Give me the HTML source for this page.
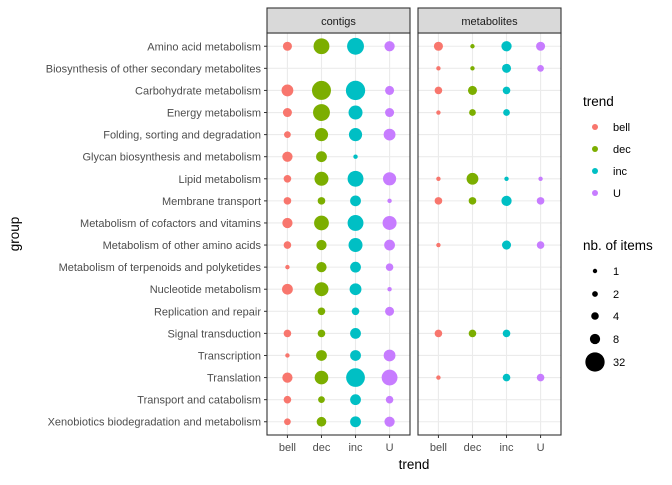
<!DOCTYPE html>
<html><head><meta charset="utf-8"><style>
body{margin:0;background:#fff;}
svg text{font-family:"Liberation Sans",sans-serif;}
</style></head><body>
<svg id="chart" width="672" height="480" xmlns="http://www.w3.org/2000/svg"></svg>
<script>
const groups=["Amino acid metabolism","Biosynthesis of other secondary metabolites","Carbohydrate metabolism","Energy metabolism","Folding, sorting and degradation","Glycan biosynthesis and metabolism","Lipid metabolism","Membrane transport","Metabolism of cofactors and vitamins","Metabolism of other amino acids","Metabolism of terpenoids and polyketides","Nucleotide metabolism","Replication and repair","Signal transduction","Transcription","Translation","Transport and catabolism","Xenobiotics biodegradation and metabolism"];
const trends=["bell","dec","inc","U"];
const colors=["#F8766D","#7CAE00","#00BFC4","#C77CFF"];
// counts per group: [bell, dec, inc, U]; 0 = absent
const contigs=[[6,21,24,8],[0,0,0,0],[11,31,32,6],[6,24,16,6],[3,14,14,11],[8,9,1,0],[4,16,21,14],[4,4,9,1],[8,18,21,16],[4,8,16,9],[1,8,9,4],[9,16,11,1],[0,4,4,6],[4,4,9,0],[1,9,9,11],[8,15,30,21],[4,3,9,4],[3,7,9,8]];
const metabolites=[[6,1,8,6],[1,1,6,3],[4,6,4,0],[1,3,3,0],[0,0,0,0],[0,0,0,0],[1,11,1,1],[4,4,8,4],[0,0,0,0],[1,0,6,4],[0,0,0,0],[0,0,0,0],[0,0,0,0],[4,4,4,0],[0,0,0,0],[1,0,4,4],[0,0,0,0],[0,0,0,0]];
const sizeBreaks=[1,2,4,8,32];

const NS="http://www.w3.org/2000/svg";
const svg=document.getElementById('chart');
function mk(tag,attrs,parent){const e=document.createElementNS(NS,tag);for(const k in attrs)e.setAttribute(k,attrs[k]);(parent||svg).appendChild(e);return e;}
const plotTop=33,plotBottom=435;
const step=(plotBottom-plotTop)/(groups.length-1+1.2);
function yPos(i){return plotTop+(0.6+i)*step;}
function rScale(n){return 1.6*Math.sqrt(n)+0.6;}
const panels=[{name:"contigs",x0:267,x1:410,data:contigs},{name:"metabolites",x0:418,x1:561,data:metabolites}];
panels.forEach(p=>{
  const xs=(p.x1-p.x0)/(trends.length-1+1.2);
  const xPos=j=>p.x0+(0.6+j)*xs;
  const g=mk('g',{});
  
  
  mk('rect',{x:p.x0,y:plotTop,width:p.x1-p.x0,height:plotBottom-plotTop,fill:'#fff'},g);
  groups.forEach((_,i)=>{mk('line',{x1:p.x0,x2:p.x1,y1:yPos(i),y2:yPos(i),stroke:'#EBEBEB','stroke-width':1.1},g);});
  trends.forEach((_,j)=>{mk('line',{x1:xPos(j),x2:xPos(j),y1:plotTop,y2:plotBottom,stroke:'#EBEBEB','stroke-width':1.1},g);});
  p.data.forEach((row,i)=>row.forEach((n,j)=>{
    if(!n)return;
    const c=mk('circle',{cx:xPos(j),cy:yPos(i),r:rScale(n),fill:colors[j]},g);
    
    
  }));
  mk('rect',{x:p.x0,y:plotTop,width:p.x1-p.x0,height:plotBottom-plotTop,fill:'none',stroke:'#333','stroke-width':1.1},g);
  const s=mk('rect',{x:p.x0,y:8,width:p.x1-p.x0,height:25,fill:'#D9D9D9',stroke:'#333','stroke-width':1.1});
  
  
  const st=mk('text',{x:(p.x0+p.x1)/2,y:25,'text-anchor':'middle','font-size':11,fill:'#1A1A1A'});
  st.textContent=p.name;
  
  
  trends.forEach((t,j)=>{
    mk('line',{x1:xPos(j),x2:xPos(j),y1:plotBottom,y2:plotBottom+3,stroke:'#333'});
    const tt=mk('text',{x:xPos(j),y:plotBottom+16,'text-anchor':'middle','font-size':11,fill:'#4D4D4D'});
    tt.textContent=t;
    
    
  });
});
groups.forEach((gname,i)=>{
  mk('line',{x1:264,x2:267,y1:yPos(i),y2:yPos(i),stroke:'#333'});
  const t=mk('text',{x:261,y:yPos(i)+4,'text-anchor':'end','font-size':11,fill:'#4D4D4D'});
  t.textContent=gname;
  
  
});
const xt=mk('text',{x:414,y:469,'text-anchor':'middle','font-size':13.5,fill:'#000'});
xt.textContent='trend';


const yt=mk('text',{x:0,y:0,'text-anchor':'middle','font-size':13.5,fill:'#000',transform:'translate(19,234) rotate(-90)'});
yt.textContent='group';


const lt=mk('text',{x:583,y:106,'font-size':13.5,fill:'#000'});
lt.textContent='trend';


trends.forEach((t,j)=>{
  const y=127+j*22;
  const c=mk('circle',{cx:595,cy:y,r:3,fill:colors[j]});
  
  
  const tx=mk('text',{x:613,y:y+4,'font-size':11,fill:'#000'});
  tx.textContent=t;
  
  
});
const st2=mk('text',{x:583,y:250,'font-size':13.5,fill:'#000'});
st2.textContent='nb. of items';


const sy=[271,294,316,339,362];
sizeBreaks.forEach((n,k)=>{
  const c=mk('circle',{cx:595,cy:sy[k],r:rScale(n),fill:'#000'});
  
  
  const tx=mk('text',{x:613,y:sy[k]+4,'font-size':11,fill:'#000'});
  tx.textContent=n;
  
  
});
</script>
</body></html>
